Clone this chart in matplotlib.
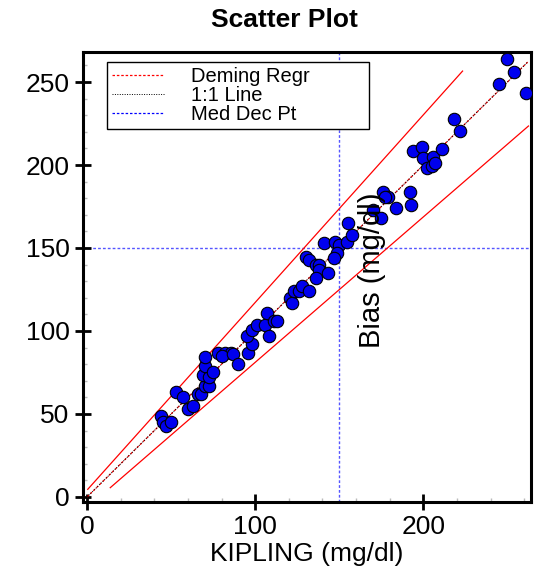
import matplotlib
matplotlib.use("Agg")
import matplotlib.pyplot as plt
import numpy as np

plt.rcParams['font.family'] = ['Liberation Sans', 'DejaVu Sans']

# data
kipling = [44, 45, 47, 50, 53, 57, 60, 63, 66, 68, 70, 72.6, 69, 72.6, 70, 75, 70.2,
           78, 82, 85.5, 80, 86.5, 90, 96, 98.3, 95, 98, 101, 106, 107, 108, 111, 112.8,
           120.5, 122, 123, 126, 128, 132, 130, 132, 136, 138, 138, 136, 143,
           140.8, 147.7, 150, 148.8, 147, 154.7, 155, 157.6,
           170, 175, 176, 178.8, 177, 184, 192, 192.7,
           194, 199, 200, 206, 211, 202, 205, 207,
           218, 222, 245, 250, 254, 261]
method2 = [49, 45, 43, 45, 63, 60, 53, 55, 62, 62, 67, 67, 73.5, 72.5, 79, 75.5, 84.5,
           87, 87, 87, 85, 86, 80, 87, 92, 97, 100.6, 103.6, 103.6, 111, 97, 106, 106,
           119.7, 117, 124, 124, 127, 124, 144.8, 142.8, 140, 140, 136.7, 132, 135,
           153, 153.8, 151.8, 146.8, 144, 153.8, 165, 157.8,
           173, 168, 184, 181, 180.5, 174, 184, 176,
           208.4, 211, 204.4, 204.6, 209.4, 198, 199.4, 201.4,
           227.5, 220.5, 248.6, 264, 256, 243.6]

deming_x = [0, 262]
deming_y = [0, 262]
upper_x = [0.4, 223.3]
upper_y = [4.6, 256.6]
lower_x = [13.8, 262.5]
lower_y = [5.6, 223.5]
med_dec = 150

xticks = [0, 100, 200]
yticks = [0, 50, 100, 150, 200, 250]

fig = plt.figure(figsize=(5.38, 5.73), dpi=100)
ax = fig.add_axes([0.154, 0.124, 0.833, 0.785])

ax.axvline(med_dec, color='#5555ff', ls=(0, (2, 1.5)), lw=1, zorder=1)
ax.axhline(med_dec, color='#5555ff', ls=(0, (2, 1.5)), lw=1, zorder=1)
ax.plot(upper_x, upper_y, color='red', lw=0.9, zorder=2)
ax.plot(lower_x, lower_y, color='red', lw=0.9, zorder=2)
ax.plot(deming_x, deming_y, color='red', ls=(0, (2, 1.5)), lw=0.9, zorder=2)
ax.plot(deming_x, deming_y, color='black', ls=(0, (1, 1.5)), lw=0.7, zorder=2)
ax.scatter(kipling, method2, s=80, color='#0000ee', edgecolors='black', linewidths=0.8, zorder=3)

# legend with proxy lines
h1, = ax.plot([], [], color='red', ls=(0, (2, 1.5)), lw=0.9)
h2, = ax.plot([], [], color='black', ls=(0, (1, 1.5)), lw=0.7)
h3, = ax.plot([], [], color='blue', ls=(0, (2, 1.5)), lw=0.9)
leg = ax.legend([h1, h2, h3], ['Deming Regr', '1:1 Line', 'Med Dec Pt'],
                loc='upper left', bbox_to_anchor=(0.054, 0.978, 0.585, 0.0),
                mode='expand', borderaxespad=0, fancybox=False, framealpha=1,
                fontsize=14.5, handlelength=2.6, handletextpad=1.3,
                labelspacing=0.0, borderpad=0.25)
leg.get_frame().set_edgecolor('black')
leg.get_frame().set_linewidth(1)

ax.text(169.7, 136.7, 'Bias (mg/dl)', rotation=90, ha='center', va='center', fontsize=21)

ax.set_xlim(-2.5, 264)
ax.set_ylim(-3, 268)
ax.set_xticks(xticks)
ax.set_yticks(yticks)
ax.set_xticks(np.arange(0, 261, 20), minor=True)
ax.set_yticks(np.arange(0, 261, 10), minor=True)
ax.tick_params(which='major', direction='inout', length=12, width=2, labelsize=19)
ax.tick_params(which='minor', direction='in', length=3, width=1, color='#bbbbbb')
for sp in ax.spines.values():
    sp.set_linewidth(2.2)

ax.set_xlabel('KIPLING (mg/dl)', fontsize=19, labelpad=2)
ax.set_title('Scatter Plot', fontsize=19, fontweight='bold', pad=18, x=0.449)

fig.savefig('out.png', dpi=100)
